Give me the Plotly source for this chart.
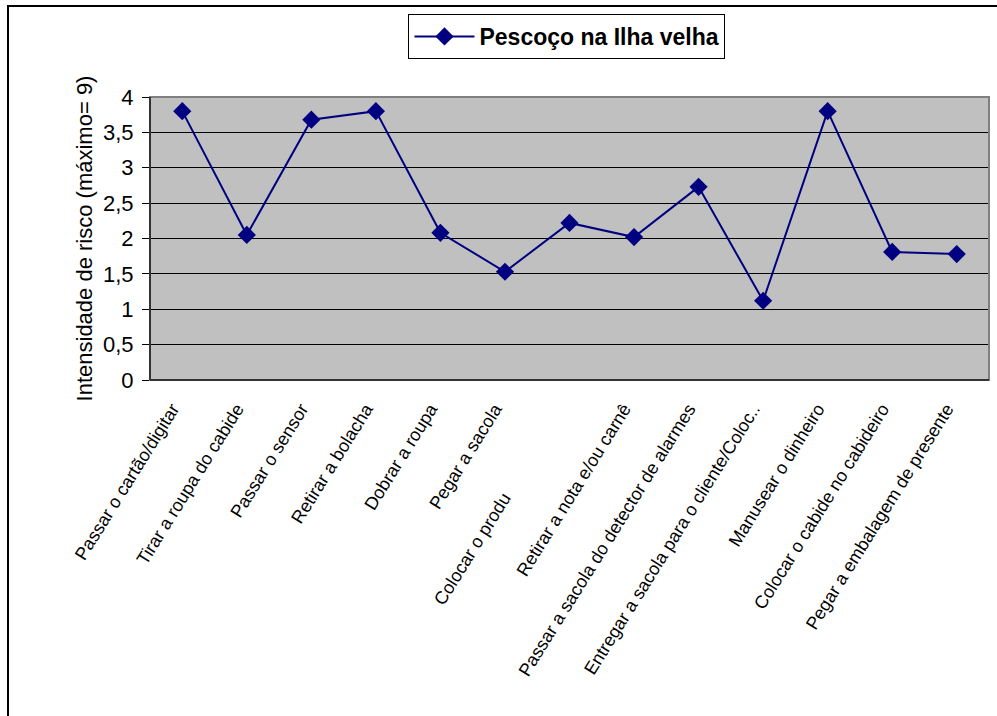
import plotly.graph_objects as go

# Tasks evaluated and the neck risk intensity for each
tarefas = [
    "Passar o cartão/digitar",
    "Tirar a roupa do cabide",
    "Passar o sensor",
    "Retirar a bolacha",
    "Dobrar a roupa",
    "Pegar a sacola",
    "Colocar o produ",
    "Retirar a nota e/ou carnê",
    "Passar a sacola do detector de alarmes",
    "Entregar a sacola para o cliente/Coloc..",
    "Manusear o dinheiro",
    "Colocar o cabide no cabideiro",
    "Pegar a embalagem de presente",
]
intensidade = [3.80, 2.05, 3.68, 3.80, 2.08, 1.53, 2.22, 2.02, 2.73, 1.12, 3.80, 1.81, 1.78]

y_ticks = [0, 0.5, 1, 1.5, 2, 2.5, 3, 3.5, 4]
y_tick_labels = ["0", "0,5", "1", "1,5", "2", "2,5", "3", "3,5", "4"]

serie = "Pescoço na Ilha velha"

# The truncated label sits further from the axis
tick_text = [t + ("\u00a0" * 21 if t == "Colocar o produ" else "") for t in tarefas]

fig = go.Figure()
fig.add_trace(go.Scatter(
    x=list(range(len(tarefas))),
    y=intensidade,
    mode="lines+markers",
    name=serie,
    line=dict(color="#000080", width=2),
    marker=dict(symbol="diamond", size=14, color="#000080"),
))

W, H = 997, 716
L, R, T, B = 150, 8, 97, 336
pw, ph = W - L - R, H - T - B

def px(x):
    return (x - L) / pw

def py(y):
    return (H - B - y) / ph

fig.update_layout(
    width=W, height=H,
    margin=dict(l=L, r=R, t=T, b=B),
    paper_bgcolor="white",
    plot_bgcolor="#C0C0C0",
    font=dict(family="Arial, Liberation Sans, sans-serif", color="black"),
    showlegend=True,
    legend=dict(
        x=0.497, y=py(14), xanchor="center", yanchor="top",
        bordercolor="black", borderwidth=1, bgcolor="white",
        font=dict(size=23, weight="bold", color="black"),
        itemwidth=60,
        tracegroupgap=0,
    ),
    xaxis=dict(
        range=[-0.5, len(tarefas) - 0.5],
        tickmode="array",
        tickvals=list(range(len(tarefas))),
        ticktext=tick_text,
        tickangle=-58,
        tickfont=dict(size=18),
        ticks="",
        ticklabelshift=-10,
        ticklabelstandoff=14,
        showgrid=False,
        zeroline=False,
        showline=False,
    ),
    yaxis=dict(
        range=[0, 4],
        tickmode="array",
        tickvals=y_ticks,
        ticktext=y_tick_labels,
        tickfont=dict(size=22),
        ticks="outside", ticklen=7, tickcolor="black",
        ticklabelstandoff=4,
        showgrid=True, gridcolor="black", gridwidth=1,
        zeroline=False,
        showline=False,
        title=dict(text="Intensidade de risco (máximo= 9)", font=dict(size=22), standoff=4),
    ),
    shapes=[
        # plot area border
        dict(type="rect", xref="paper", yref="paper", x0=0, y0=0, x1=1, y1=1,
             line=dict(color="#808080", width=2), layer="above"),
        # axis lines
        dict(type="line", xref="paper", yref="paper", x0=0, y0=0, x1=0, y1=1,
             line=dict(color="#333333", width=2), layer="above"),
        dict(type="line", xref="paper", yref="paper", x0=0, y0=0, x1=1, y1=0,
             line=dict(color="#333333", width=2), layer="above"),
        # outer chart frame
        dict(type="rect", xref="paper", yref="paper",
             x0=px(8), y0=py(740), x1=px(1020), y1=py(6),
             line=dict(color="black", width=2), layer="above"),
    ],
)

fig.write_html("out.html")
